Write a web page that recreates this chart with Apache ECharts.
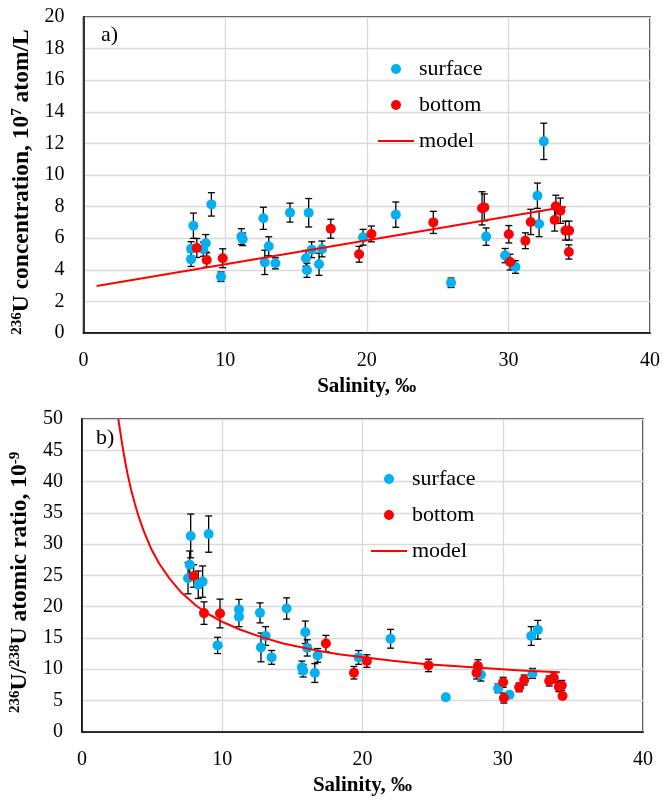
<!DOCTYPE html>
<html>
<head>
<meta charset="utf-8">
<script src="https://cdn.jsdelivr.net/npm/echarts@6/dist/echarts.min.js"></script>
<style>html,body{margin:0;padding:0;background:#fff}#c{width:665px;height:802px}</style>
</head>
<body>
<div id="c"></div>
<script>
// Panel a: 236U concentration (10^7 atom/L) vs salinity: [salinity, value, error]
const surfaceA = [
  [7.59,4.66,0.45],[7.76,6.79,0.8],[7.6,5.33,0.45],[8.46,5.3,0.45],[8.63,5.68,0.55],
  [9.03,8.14,0.74],[9.71,3.56,0.3],[11.15,6.1,0.5],[11.24,5.93,0.4],[12.7,7.26,0.7],
  [12.8,4.47,0.77],[13.08,5.49,0.6],[13.55,4.41,0.35],[14.58,7.62,0.6],[15.9,7.61,0.9],
  [15.71,4.73,0.5],[15.78,3.97,0.45],[16.11,5.27,0.5],[16.84,5.32,0.5],[16.63,4.35,0.7],
  [19.74,6.06,0.5],[22.05,7.49,0.8],[25.95,3.18,0.3],[28.43,6.1,0.55],[29.77,4.9,0.45],
  [30.5,4.18,0.4],[32.05,8.69,0.8],[32.17,6.9,0.8],[32.5,12.13,1.15]
];
const bottomA = [
  [8.0,5.38,0.6],[8.7,4.62,0.45],[9.83,4.73,0.6],[17.46,6.6,0.6],[19.46,4.98,0.5],
  [20.33,6.27,0.5],[24.7,7.0,0.7],[28.14,7.89,1.05],[28.3,7.95,0.85],[30.03,6.25,0.55],
  [30.12,4.49,0.5],[31.2,5.84,0.5],[31.58,7.03,0.8],[33.35,8.02,0.7],[33.27,7.15,0.7],
  [33.67,7.74,0.8],[34.03,6.48,0.6],[34.29,6.48,0.6],[34.27,5.13,0.45]
];
const modelA = [[0.93,2.97],[34.05,7.99]];

// Panel b: 236U/238U atomic ratio (10^-9) vs salinity: [salinity, value, error]
const surfaceB = [
  [7.75,31.3,3.5],[9.03,31.6,2.9],[7.68,26.7,2.2],[7.56,24.55,2.5],[8.29,23.5,2.2],
  [8.6,24.0,2.5],[9.67,13.8,1.3],[11.19,19.55,1.6],[11.19,18.4,1.6],[12.69,19.0,1.6],
  [12.76,13.48,2.3],[13.09,15.3,1.5],[13.52,11.88,1.1],[14.59,19.7,1.7],[15.92,15.9,1.8],
  [16.06,13.4,1.3],[15.68,10.3,1.0],[15.77,9.75,1.0],[16.6,9.38,1.5],[16.8,12.2,1.1],
  [19.72,11.88,1.1],[22.0,14.86,1.5],[25.94,5.5,0.4],[28.44,9.1,1.0],[29.67,6.93,0.7],
  [30.48,5.9,0.5],[32.03,15.3,1.5],[32.5,16.3,1.5],[32.12,9.32,0.8]
];
const bottomB = [
  [7.96,24.9,1.8],[8.7,18.96,1.8],[9.84,18.9,2.3],[17.39,14.1,1.3],[19.39,9.43,1.0],
  [20.31,11.3,1.0],[24.71,10.6,1.0],[28.23,10.5,1.0],[28.13,9.43,1.0],[30.03,7.9,0.8],
  [30.08,5.38,0.8],[31.17,7.09,0.7],[31.53,8.26,0.8],[33.31,8.1,0.8],[33.64,8.63,0.8],
  [34.0,7.2,0.8],[34.21,7.4,0.8],[34.26,5.7,0.5]
];
const modelB = [
  [2.59,50],[2.7,48.4],[2.8,46.9],[2.93,45.1],[3.06,43.4],[3.25,41.2],[3.5,38.7],
  [3.75,36.6],[4.01,34.6],[4.4,32.1],[4.92,29.3],[5.5,26.9],[6.27,24.4],[7.1,22.2],
  [8.17,20.1],[9.1,18.7],[10.07,17.5],[11.3,16.3],[12.69,15.2],[14.35,14.1],[16.73,13.0],
  [18.3,12.4],[20.05,11.9],[22.3,11.3],[24.57,10.8],[26.5,10.5],[28.6,10.2],[31.3,9.8],[34.07,9.5]
];

const seriesNames = ['surface','bottom','model'];
const xTitle = 'Salinity, ‰';
const yTitleA = '{sup|236}{t|U concentration, 10}{sup|7}{t| atom/L}{gap|}';
const yTitleB = '{sup|236}{t|U/}{sup|238}{t|U atomic ratio, 10}{sup|-9}{gap|}';
const panelLabels = ['a)','b)'];

const FONT = 'Liberation Serif';
const BLUE = '#00B0F0', RED = '#FF0000';

function errRender(params, api) {
  const x = api.value(0), y = api.value(1), e = api.value(2);
  const t = api.coord([x, y + e]), b = api.coord([x, y - e]);
  const w = 3.5;
  const st = {stroke:'#000', lineWidth:1.3};
  return {type:'group', children:[
    {type:'line', shape:{x1:t[0],y1:t[1],x2:b[0],y2:b[1]}, style:st},
    {type:'line', shape:{x1:t[0]-w,y1:t[1],x2:t[0]+w,y2:t[1]}, style:st},
    {type:'line', shape:{x1:b[0]-w,y1:b[1],x2:b[0]+w,y2:b[1]}, style:st}
  ]};
}

const richTitle = {
  t:{fontFamily:FONT,fontWeight:'bold',fontSize:23.5,color:'#000'},
  sup:{fontFamily:FONT,fontWeight:'bold',fontSize:15,color:'#000',verticalAlign:'top'},
  gap:{width:14,fontSize:15}
};

function xAxisCfg(i){
  return {
    type:'value', gridIndex:i, min:0, max:40, interval:10,
    name:xTitle, nameLocation:'middle', nameGap:43,
    nameTextStyle:{fontFamily:FONT,fontWeight:'bold',fontSize:21,color:'#000'},
    axisLine:{show:true,onZero:false,lineStyle:{color:'#000',width:1.5}},
    axisTick:{show:false},
    axisLabel:{fontFamily:FONT,fontSize:20,color:'#000',margin:18},
    splitLine:{show:true,lineStyle:{color:'#D9D9D9',width:1.3}}
  };
}
function yAxisCfg(i,max,interval,name){
  return {
    type:'value', gridIndex:i, min:0, max:max, interval:interval,
    name:name, nameLocation:'middle', nameRotate:90, nameGap:47,
    nameTextStyle:{rich:richTitle},
    axisLine:{show:true,lineStyle:{color:'#000',width:1.5}},
    axisTick:{show:false},
    axisLabel:{fontFamily:FONT,fontSize:20,color:'#000',margin:19},
    splitLine:{show:true,lineStyle:{color:'#D9D9D9',width:1.3}}
  };
}

function panelSeries(i, surf, bot, model){
  return [
    {type:'custom', name:'err-s'+i, xAxisIndex:i, yAxisIndex:i, renderItem:errRender, data:surf, encode:{x:0,y:1}, z:1, silent:true},
    {type:'custom', name:'err-b'+i, xAxisIndex:i, yAxisIndex:i, renderItem:errRender, data:bot, encode:{x:0,y:1}, z:1, silent:true},
    {type:'scatter', name:seriesNames[0], xAxisIndex:i, yAxisIndex:i, data:surf.map(d=>[d[0],d[1]]), symbol:'circle', symbolSize:10, itemStyle:{color:BLUE,opacity:1}, z:2},
    {type:'scatter', name:seriesNames[1], xAxisIndex:i, yAxisIndex:i, data:bot.map(d=>[d[0],d[1]]), symbol:'circle', symbolSize:10, itemStyle:{color:RED,opacity:1}, z:3},
    {type:'line', name:seriesNames[2], xAxisIndex:i, yAxisIndex:i, data:model, showSymbol:false, symbol:'none', smooth:false, clip:true, lineStyle:{color:RED,width:2,join:'round'}, itemStyle:{color:RED}, z:4}
  ];
}

function legendCfg(left, top){
  return {
    orient:'vertical', left:left, top:top, padding:0, itemGap:14,
    itemWidth:36, itemHeight:10, selectedMode:false,
    data:[
      {name:'surface',icon:'circle'},
      {name:'bottom',icon:'circle'},
      {name:'model', itemStyle:{color:'rgba(0,0,0,0)', borderWidth:0, opacity:0}, lineStyle:{color:RED, width:2}}
    ],
    textStyle:{fontFamily:FONT,fontSize:22,color:'#000',lineHeight:22}
  };
}

const chart = echarts.init(document.getElementById('c'), null, {renderer:'canvas'});
chart.setOption({
  animation:false,
  backgroundColor:'#fff',
  grid:[
    {left:83.5, top:17, width:566.5, height:316, show:true, borderColor:'#000', borderWidth:1.5, backgroundColor:'transparent'},
    {left:82, top:419, width:561, height:312.7, show:true, borderColor:'#000', borderWidth:1.5, backgroundColor:'transparent'}
  ],
  xAxis:[xAxisCfg(0), xAxisCfg(1)],
  yAxis:[yAxisCfg(0,20,2,yTitleA), yAxisCfg(1,50,5,yTitleB)],
  legend:[legendCfg(377,58), legendCfg(370,468)],
  graphic:[
    {type:'text', left:101, top:24, style:{text:panelLabels[0], fontFamily:FONT, fontSize:22, fill:'#000'}},
    {type:'text', left:96, top:427, style:{text:panelLabels[1], fontFamily:FONT, fontSize:22, fill:'#000'}}
  ],
  series:[].concat(panelSeries(0,surfaceA,bottomA,modelA), panelSeries(1,surfaceB,bottomB,modelB))
});
</script>
</body>
</html>
